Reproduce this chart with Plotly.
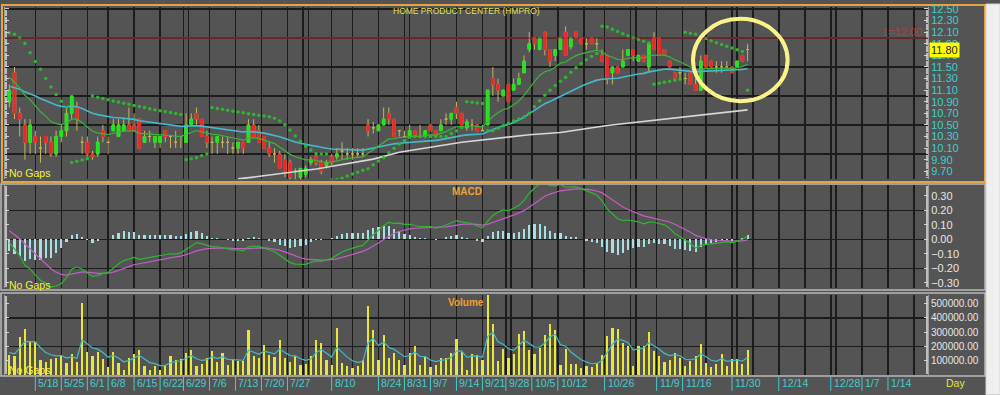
import plotly.graph_objects as go

# ---------------- data ----------------
day_index = list(range(143))
opens = [10.90, 11.40, 10.70, 10.50, 10.20, 10.30, 10.10, 10.30, 10.20, 10.00,
         10.30, 10.40, 10.70, 10.80, 10.20, 10.20, 10.00, 10.00, 10.40, 10.20,
         10.40, 10.30, 10.40, 10.50, 10.50, 10.60, 10.20, 10.30, 10.20, 10.20,
         10.40, 10.30, 10.20, 10.30, 10.20, 10.50, 10.70, 10.60, 10.30, 10.20,
         10.20, 10.20, 10.20, 10.10, 10.10, 10.20, 10.20, 10.50, 10.40, 10.30,
         10.10, 10.00, 10.00, 9.90, 9.85, 9.70, 9.60, 9.65, 9.85, 9.95,
         9.85, 9.80, 9.95, 9.95, 10.05, 10.00, 10.00, 10.00, 10.00, 10.50,
         10.45, 10.40, 10.50, 10.70, 10.60, 10.40, 10.30, 10.30, 10.40, 10.30,
         10.30, 10.50, 10.40, 10.40, 10.60, 10.60, 10.80, 10.70, 10.45, 10.50,
         10.50, 10.40, 10.50, 11.30, 11.20, 11.00, 11.20, 11.10, 11.20, 11.40,
         11.80, 12.00, 11.80, 12.10, 11.80, 11.70, 11.80, 12.10, 11.85, 12.10,
         12.00, 11.90, 12.00, 11.90, 11.70, 11.70, 11.40, 11.50, 11.50, 11.70,
         11.80, 11.60, 11.70, 11.50, 12.00, 12.00, 11.80, 11.60, 11.40, 11.40,
         11.30, 11.40, 11.20, 11.10, 11.70, 11.60, 11.50, 11.50, 11.50, 11.50,
         11.50, 11.70, 11.80]
highs = [11.20, 11.50, 10.80, 10.60, 10.60, 10.40, 10.30, 10.30, 10.30, 10.40,
         10.50, 10.80, 11.00, 10.90, 10.30, 10.30, 10.05, 10.30, 10.50, 10.30,
         10.60, 10.60, 10.60, 10.80, 10.70, 10.60, 10.40, 10.40, 10.30, 10.30,
         10.40, 10.30, 10.40, 10.30, 10.70, 10.70, 10.80, 10.60, 10.40, 10.30,
         10.30, 10.30, 10.30, 10.20, 10.20, 10.20, 10.60, 10.60, 10.50, 10.30,
         10.20, 10.10, 10.05, 10.00, 9.90, 9.75, 9.75, 9.80, 9.95, 10.00,
         9.90, 9.90, 10.00, 10.10, 10.20, 10.10, 10.10, 10.10, 10.10, 10.60,
         10.55, 10.50, 10.80, 10.80, 10.60, 10.40, 10.40, 10.50, 10.40, 10.50,
         10.40, 10.50, 10.40, 10.60, 10.70, 10.70, 10.90, 10.70, 10.60, 10.60,
         10.50, 10.50, 11.10, 11.50, 11.30, 11.10, 11.20, 11.30, 11.40, 11.70,
         12.10, 12.00, 12.00, 12.10, 11.80, 11.80, 12.00, 12.20, 12.00, 12.10,
         12.00, 12.00, 12.00, 12.00, 11.80, 11.70, 11.50, 11.50, 11.80, 11.80,
         11.80, 11.70, 11.70, 11.90, 12.10, 12.00, 11.80, 11.60, 11.40, 11.50,
         11.40, 11.40, 11.30, 11.70, 11.70, 11.60, 11.60, 11.60, 11.60, 11.50,
         11.60, 11.70, 11.90]
lows = [10.80, 10.60, 10.30, 9.90, 10.00, 10.00, 9.85, 10.00, 9.95, 9.95,
        10.20, 10.30, 10.60, 10.40, 10.00, 9.95, 9.90, 9.95, 10.20, 10.00,
        10.40, 10.30, 10.40, 10.40, 10.40, 10.10, 10.20, 10.20, 10.10, 10.10,
        10.20, 10.10, 10.10, 10.10, 10.20, 10.50, 10.50, 10.30, 10.10, 10.00,
        10.00, 10.10, 10.00, 10.00, 10.00, 10.00, 10.20, 10.30, 10.20, 10.10,
        9.95, 9.85, 9.75, 9.60, 9.55, 9.55, 9.55, 9.60, 9.80, 9.80,
        9.65, 9.75, 9.80, 9.90, 9.90, 9.90, 9.90, 9.95, 9.95, 10.30,
        10.35, 10.40, 10.50, 10.50, 10.30, 10.30, 10.30, 10.30, 10.30, 10.30,
        10.30, 10.40, 10.30, 10.40, 10.50, 10.50, 10.60, 10.50, 10.40, 10.40,
        10.40, 10.40, 10.50, 11.00, 10.90, 11.00, 10.90, 11.10, 11.20, 11.40,
        11.75, 11.80, 11.80, 11.70, 11.50, 11.60, 11.80, 11.70, 11.80, 12.00,
        11.90, 11.80, 11.90, 11.80, 11.60, 11.20, 11.20, 11.40, 11.50, 11.70,
        11.60, 11.60, 11.60, 11.40, 11.80, 11.70, 11.70, 11.50, 11.30, 11.30,
        11.20, 11.20, 11.10, 11.10, 11.50, 11.50, 11.40, 11.40, 11.50, 11.40,
        11.50, 11.60, 11.60]
closes = [11.10, 10.70, 10.60, 10.20, 10.50, 10.20, 10.10, 10.20, 10.00, 10.30,
          10.40, 10.70, 11.00, 10.60, 10.20, 10.00, 9.95, 10.20, 10.30, 10.20,
          10.50, 10.50, 10.50, 10.40, 10.40, 10.10, 10.30, 10.30, 10.30, 10.30,
          10.30, 10.30, 10.20, 10.30, 10.50, 10.60, 10.60, 10.30, 10.20, 10.20,
          10.30, 10.20, 10.20, 10.10, 10.20, 10.10, 10.50, 10.30, 10.20, 10.10,
          10.00, 10.00, 9.75, 9.70, 9.60, 9.70, 9.75, 9.75, 9.90, 9.85,
          9.70, 9.85, 9.85, 10.00, 10.05, 10.00, 10.00, 10.00, 10.00, 10.40,
          10.45, 10.50, 10.60, 10.60, 10.30, 10.40, 10.30, 10.40, 10.30, 10.30,
          10.40, 10.40, 10.30, 10.50, 10.60, 10.70, 10.70, 10.50, 10.55, 10.50,
          10.40, 10.40, 11.10, 11.20, 11.10, 11.10, 10.90, 11.20, 11.30, 11.60,
          11.90, 11.90, 12.00, 11.80, 11.60, 11.80, 12.00, 11.70, 12.00, 12.00,
          11.90, 11.90, 11.90, 11.90, 11.60, 11.30, 11.50, 11.40, 11.60, 11.80,
          11.70, 11.70, 11.60, 11.90, 11.80, 11.70, 11.70, 11.50, 11.30, 11.40,
          11.30, 11.20, 11.10, 11.60, 11.50, 11.50, 11.50, 11.50, 11.50, 11.40,
          11.60, 11.60, 11.80]
volumes = [141000, 130000, 267000, 324000, 232000, 232000, 107000, 89000, 111000, 118000,
           141000, 84000, 148000, 89000, 506000, 164000, 130000, 164000, 111000, 57000,
           164000, 84000, 38000, 118000, 148000, 175000, 61000, 38000, 66000, 38000,
           66000, 130000, 107000, 111000, 153000, 175000, 66000, 79000, 118000, 171000,
           89000, 153000, 73000, 102000, 100000, 100000, 312000, 130000, 118000, 210000,
           141000, 125000, 244000, 118000, 89000, 130000, 73000, 79000, 130000, 244000,
           221000, 102000, 73000, 328000, 84000, 61000, 50000, 66000, 107000, 484000,
           317000, 107000, 278000, 118000, 153000, 107000, 73000, 153000, 203000, 73000,
           125000, 57000, 73000, 118000, 118000, 157000, 255000, 164000, 38000, 148000,
           139000, 102000, 560000, 358000, 100000, 180000, 120000, 150000, 285000, 310000,
           175000, 150000, 190000, 280000, 355000, 315000, 70000, 180000, 80000, 80000,
           50000, 60000, 55000, 85000, 140000, 270000, 330000, 320000, 225000, 200000,
           65000, 200000, 200000, 300000, 165000, 135000, 90000, 105000, 155000, 120000,
           60000, 100000, 130000, 215000, 85000, 55000, 80000, 150000, 60000, 115000,
           110000, 80000, 175000]

# long moving average (white line) read at a few days
long_ma_days = [44, 47, 59, 70, 75, 87, 100, 106, 115, 125, 142]
long_ma_vals = [9.57, 9.60, 9.74, 9.91, 10.03, 10.20, 10.33, 10.37, 10.49, 10.59, 10.76]

fast_ma_start = 11.36
slow_ma_start = 11.17
macd_seed = 11.36
signal_start = 0.08
sar_start = 12.09
vol_ma_start = 164000

ref_price = 12.00
ref_label = "1=12.00"
last_price_label = "11.80"

tick_days = [5, 10, 15, 19, 24, 29, 33.5, 38.5, 43.5, 48.5, 53.5, 62, 71, 76, 81, 86, 91,
             95.5, 100.5, 105.5, 114.5, 124.5, 129.5, 139, 148, 158, 164, 169]
tick_labels = ["5/18", "5/25", "6/1", "6/8", "6/15", "6/22", "6/29", "7/6", "7/13", "7/20",
               "7/27", "8/10", "8/24", "8/31", "9/7", "9/14", "9/21", "9/28", "10/5", "10/12",
               "10/26", "11/9", "11/16", "11/30", "12/14", "12/28", "1/7", "1/14"]
grid_days = [5, 10, 15, 19, 24, 29, 33.5, 34.5, 38.5, 43.5, 48.5, 53.5, 56.5, 57.5, 62, 66,
             71, 76, 77, 81, 86, 91, 95.5, 96.5, 100.5, 105.5, 110.5, 114.5, 119.5, 120.5,
             124.5, 129.5, 134, 139, 140, 143, 148, 153, 158, 159, 164, 169, 174]

price_ticks = [9.7, 9.9, 10.1, 10.3, 10.5, 10.7, 10.9, 11.1, 11.3, 11.5, 11.7, 11.9, 12.1, 12.3, 12.5]
price_grid = [10.0, 10.5, 11.0, 11.5, 12.0, 12.5]
macd_ticks = [-0.3, -0.2, -0.1, 0.0, 0.1, 0.2, 0.3]
macd_grid = [-0.2, 0.0, 0.2]
vol_ticks = [100000, 200000, 300000, 400000, 500000]
vol_grid = [200000, 400000]

title_text = "HOME PRODUCT CENTER (HMPRO)"


# ---------------- indicators ----------------
def ema(values, period, start):
    a = 2.0 / (period + 1)
    out, prev = [], start
    for v in values:
        prev = prev + a * (v - prev)
        out.append(prev)
    return out


def psar(h, l, start, step=0.02, amax=0.2):
    trend, sar, ep, af = -1, start, l[0], step
    out = [sar]
    for i in range(1, len(h)):
        sar = sar + af * (ep - sar)
        if trend < 0:
            sar = max(sar, h[i - 1], h[i - 2] if i >= 2 else h[i - 1])
            if h[i] > sar:
                trend, sar, ep, af = 1, ep, h[i], step
            elif l[i] < ep:
                ep, af = l[i], min(af + step, amax)
        else:
            sar = min(sar, l[i - 1], l[i - 2] if i >= 2 else l[i - 1])
            if l[i] < sar:
                trend, sar, ep, af = -1, ep, l[i], step
            elif h[i] > ep:
                ep, af = h[i], min(af + step, amax)
        out.append(sar)
    return out


fast_ma = ema(closes, 13, fast_ma_start)
slow_ma = ema(closes, 39, slow_ma_start)
ema12 = ema(closes, 12, macd_seed)
ema26 = ema(closes, 26, macd_seed)
macd = [a - b for a, b in zip(ema12, ema26)]
signal = ema(macd, 9, signal_start)
hist = [m - s for m, s in zip(macd, signal)]
sar = psar(highs, lows, sar_start)
vol_ma = ema(volumes, 5, vol_ma_start)

body_o = [o if o != c else None for o, c in zip(opens, closes)]
body_c = [c if o != c else None for o, c in zip(opens, closes)]
body_h = [max(o, c) if o != c else None for o, c in zip(opens, closes)]
body_l = [min(o, c) if o != c else None for o, c in zip(opens, closes)]

# ---------------- layout helpers ----------------
W, H = 1000, 395
ML, MR, MT, MB = 5, 72, 3, 20
PW, PH = W - ML - MR, H - MT - MB


def px(x):
    return (x - ML) / PW


def py(y):
    return (H - MB - y) / PH


BG = "#545454"
GRID = "#1c1c1c"
CYAN_TXT = "#3fcfcf"
FONT = "Liberation Sans"
XR = [-0.83, 176.7]
PRICE_R = [9.565, 12.534]
MACD_R = [-0.336, 0.375]
VOL_R = [0, 560000]

fig = go.Figure()

# wick layer (tan) and bodies
fig.add_trace(go.Candlestick(
    x=day_index, open=opens, high=highs, low=lows, close=closes,
    increasing=dict(line=dict(color="#c8b45a", width=1), fillcolor="#c8b45a"),
    decreasing=dict(line=dict(color="#c8b45a", width=1), fillcolor="#c8b45a"),
    whiskerwidth=0, xaxis="x", yaxis="y", showlegend=False, hoverinfo="skip"))
fig.add_trace(go.Candlestick(
    x=day_index, open=body_o, high=body_h, low=body_l, close=body_c,
    increasing=dict(line=dict(color="#1ee61e", width=1), fillcolor="#1ee61e"),
    decreasing=dict(line=dict(color="#e82a2a", width=1), fillcolor="#e82a2a"),
    whiskerwidth=0, xaxis="x", yaxis="y", showlegend=False, hoverinfo="skip"))

fig.add_trace(go.Scatter(x=long_ma_days, y=long_ma_vals, mode="lines",
                         line=dict(color="#d8d8d8", width=1.6), xaxis="x", yaxis="y",
                         showlegend=False, hoverinfo="skip"))
fig.add_trace(go.Scatter(x=day_index, y=slow_ma, mode="lines",
                         line=dict(color="#45b9c9", width=1.6), xaxis="x", yaxis="y",
                         showlegend=False, hoverinfo="skip"))
fig.add_trace(go.Scatter(x=day_index, y=fast_ma, mode="lines",
                         line=dict(color="#3cb43c", width=1.2), xaxis="x", yaxis="y",
                         showlegend=False, hoverinfo="skip"))
fig.add_trace(go.Scatter(x=day_index, y=sar, mode="markers",
                         marker=dict(color="#2fb52f", size=3.5, line=dict(width=0)),
                         xaxis="x", yaxis="y", showlegend=False, hoverinfo="skip"))

# MACD
fig.add_trace(go.Bar(x=day_index, y=hist, width=0.42, marker=dict(color="#a6dfe4", line=dict(width=0)),
                     xaxis="x2", yaxis="y2", showlegend=False, hoverinfo="skip"))
fig.add_trace(go.Scatter(x=day_index, y=signal, mode="lines",
                         line=dict(color="#c55cc8", width=1.2), xaxis="x2", yaxis="y2",
                         showlegend=False, hoverinfo="skip"))
fig.add_trace(go.Scatter(x=day_index, y=macd, mode="lines",
                         line=dict(color="#31b531", width=1.2), xaxis="x2", yaxis="y2",
                         showlegend=False, hoverinfo="skip"))

# Volume
fig.add_trace(go.Bar(x=day_index, y=volumes, width=0.42, marker=dict(color="#e8e834", line=dict(width=0)),
                     xaxis="x3", yaxis="y3", showlegend=False, hoverinfo="skip"))
fig.add_trace(go.Scatter(x=day_index, y=vol_ma, mode="lines",
                         line=dict(color="#42bcc4", width=1.2), xaxis="x3", yaxis="y3",
                         showlegend=False, hoverinfo="skip"))

# dummy traces so the label axes exist
for ya, xa in (("y4", "x"), ("y5", "x2"), ("y6", "x3")):
    fig.add_trace(go.Scatter(x=[None], y=[None], xaxis=xa, yaxis=ya, showlegend=False,
                             hoverinfo="skip"))

dom_main = [py(177), py(3)]
dom_macd = [py(287), py(183)]
dom_vol = [py(375), py(294)]


def xax(anchor):
    return dict(domain=[0, 1], range=XR, anchor=anchor, tickmode="array", tickvals=grid_days,
                showticklabels=False, showgrid=True, gridcolor=GRID, gridwidth=1.5,
                zeroline=False, ticks="", showline=False, fixedrange=True,
                rangeslider=dict(visible=False))


def grid_ax(dom, rng, vals, anchor):
    return dict(domain=dom, range=rng, anchor=anchor, tickmode="array", tickvals=vals,
                showticklabels=False, showgrid=True, gridcolor=GRID, gridwidth=1.5,
                zeroline=False, ticks="", showline=False, fixedrange=True)


def label_ax(over, rng, vals, anchor, color, size, fmt):
    return dict(overlaying=over, side="right", anchor=anchor, range=rng, tickmode="array",
                tickvals=vals, tickformat=fmt, showgrid=False, zeroline=False,
                tickfont=dict(color=color, size=size, family=FONT), ticklabeloverflow="allow",
                ticks="inside", ticklen=4, tickcolor="#d0d0d0", tickwidth=1,
                showline=True, linecolor="#9c9c9c", linewidth=1, mirror="ticks",
                fixedrange=True,
                minor=dict(ticks="inside", ticklen=2, tickcolor="#bdbdbd", nticks=40))


def note(text, x, y, color, size, xanchor="center", **kw):
    d = dict(text=text, x=x, y=y, xref="paper", yref="paper", xanchor=xanchor,
             yanchor="middle", showarrow=False, font=dict(color=color, size=size, family=FONT))
    d.update(kw)
    return d


annotations = [
    note(title_text, px(467), py(7.5), "#e2e24a", 8.5),
    note("No Gaps", px(7), py(171), "#f2f23c", 10.5, xanchor="left"),
    note("No Gaps", px(7), py(284), "#f2f23c", 10.5, xanchor="left"),
    note("No Gaps", px(7), py(370), "#f2f23c", 10.5, xanchor="left"),
    note("<b>MACD</b>", px(467), py(189), "#f0a030", 10),
    note("<b>Volume</b>", px(466), py(302), "#f0a030", 10),
    note(ref_label, px(924), py(28.5), "#c83a3a", 11, xanchor="right", opacity=0.85),
    note("Day", px(955), py(383), "#e6e040", 10.5),
    dict(text=last_price_label, x=px(929), y=closes[-1], xref="paper", yref="y", xanchor="left",
         yanchor="middle", showarrow=False, bgcolor="#ffff00", borderpad=1,
         font=dict(color="#202020", size=11, family=FONT)),
]
for d, lab in zip(tick_days, tick_labels):
    annotations.append(dict(text=lab, x=d, y=py(383), xref="x3", yref="paper", xanchor="left",
                            yanchor="middle", xshift=1, showarrow=False,
                            font=dict(color=CYAN_TXT, size=10.5, family=FONT)))

shapes = [
    # reference price line
    dict(type="line", xref="x domain", yref="y", x0=0, x1=1, y0=ref_price, y1=ref_price,
         line=dict(color="#b43434", width=1)),
    # highlight circle
    dict(type="circle", xref="x", yref="y", x0=131.5, x1=149.7, y0=10.91, y1=12.33,
         line=dict(color="#fbf38a", width=4)),
    # panel frames
    dict(type="rect", xref="paper", yref="paper", x0=px(2), x1=px(985), y0=py(180), y1=py(1),
         line=dict(color="#e3a445", width=2)),
    dict(type="rect", xref="paper", yref="paper", x0=px(1), x1=px(985), y0=py(289), y1=py(182),
         line=dict(color="#b8b8b8", width=1.5)),
    dict(type="rect", xref="paper", yref="paper", x0=px(1), x1=px(985), y0=py(376), y1=py(292),
         line=dict(color="#b8b8b8", width=1.5)),
    # scrollbar strip
    dict(type="rect", xref="paper", yref="paper", x0=px(986), x1=px(1000), y0=py(395), y1=py(0),
         fillcolor="#efefef", line=dict(color="#d6d6d6", width=1)),
]
for d in tick_days:
    shapes.append(dict(type="line", xref="x3", yref="paper", x0=d, x1=d, y0=py(377), y1=py(391),
                       line=dict(color=CYAN_TXT, width=1)))

fig.update_layout(
    width=W, height=H, margin=dict(l=ML, r=MR, t=MT, b=MB),
    paper_bgcolor=BG, plot_bgcolor=BG, showlegend=False, bargap=0, hovermode=False,
    font=dict(family=FONT),
    xaxis=xax("y"), xaxis2=dict(xax("y2"), matches="x"), xaxis3=dict(xax("y3"), matches="x"),
    yaxis=grid_ax(dom_main, PRICE_R, price_grid, "x"),
    yaxis2=grid_ax(dom_macd, MACD_R, macd_grid, "x2"),
    yaxis3=grid_ax(dom_vol, VOL_R, vol_grid, "x3"),
    yaxis4=label_ax("y", PRICE_R, price_ticks, "x", CYAN_TXT, 11, ".2f"),
    yaxis5=label_ax("y2", MACD_R, macd_ticks, "x2", "#e6e6e6", 11, ".2f"),
    yaxis6=label_ax("y3", VOL_R, vol_ticks, "x3", "#e6e6e6", 10, ".2f"),
    annotations=annotations, shapes=shapes,
)

fig.write_html("out.html", config={"displayModeBar": False, "staticPlot": True},
               post_script="document.body.style.margin='0';document.body.style.overflow='hidden';")
